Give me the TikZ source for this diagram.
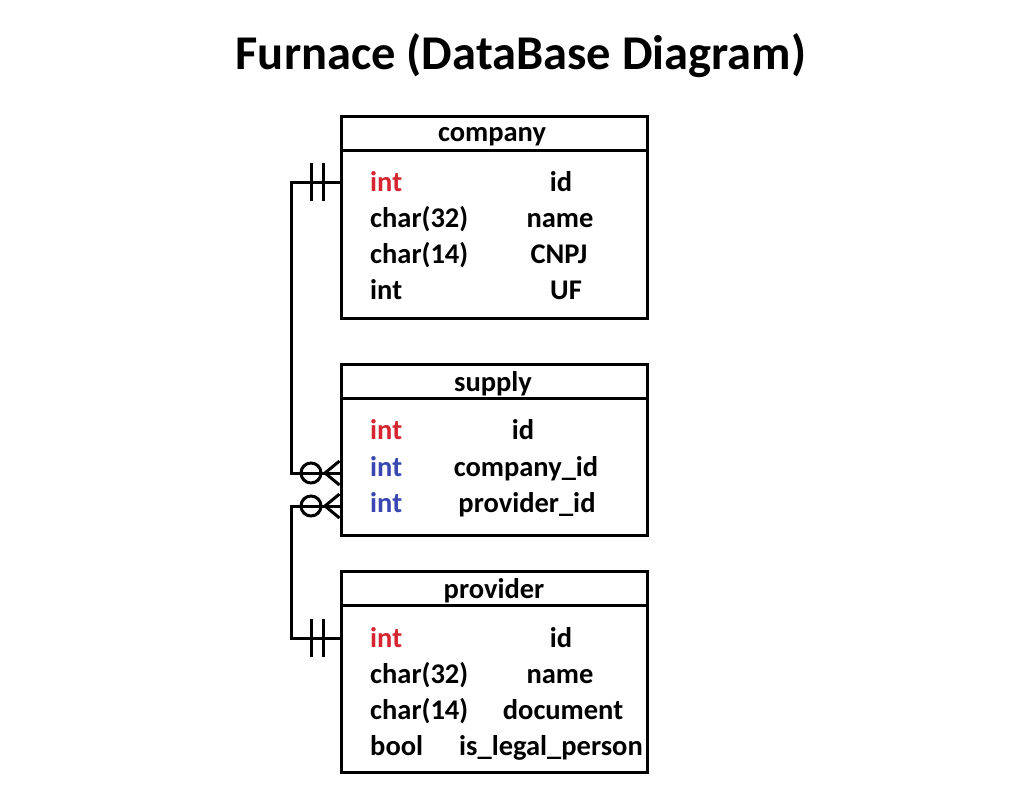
\documentclass[tikz,border=0pt]{standalone}
\usepackage{fontspec}
\setmainfont{Carlito}
\definecolor{pkred}{RGB}{214,36,48}
\definecolor{fkblue}{RGB}{58,70,178}
\begin{document}
\begin{tikzpicture}[x=1pt,y=-1pt,
  lw/.style={line width=3pt},
  tbl/.style={draw,lw,rectangle,minimum width=306pt,inner sep=0pt},
  hdr/.style={anchor=base,inner sep=0pt,font=\fontsize{28.5}{30}\selectfont\bfseries},
  typ/.style={anchor=base west,inner sep=0pt,font=\fontsize{28.5}{30}\selectfont\bfseries},
  fld/.style={anchor=base,inner sep=0pt,font=\fontsize{28.5}{30}\selectfont\bfseries},
  conn/.style={lw,line join=miter}]
\useasboundingbox[fill=white] (0,0) rectangle (1014,800);
\node[anchor=base,inner sep=0pt,font=\fontsize{48.5}{50}\selectfont\bfseries] (title) at (521,70) {Furnace (DataBase Diagram)};

% company
\node[tbl,minimum height=202pt] (company) at (494,217) {};
\draw[lw] ([yshift=-36pt]company.north west) -- ([yshift=-36pt]company.north east);
\node[hdr] (companyh) at (492,141) {company};
\node[typ,text=pkred] (ct1) at (370,191) {int};
\node[typ] (ct2) at (370,227) {char(32)};
\node[typ] (ct3) at (370,263) {char(14)};
\node[typ] (ct4) at (370,299) {int};
\node[fld] (cf1) at (561,191) {id};
\node[fld] (cf2) at (560,227) {name};
\node[fld] (cf3) at (559,263) {CNPJ};
\node[fld] (cf4) at (566,299) {UF};

% supply
\node[tbl,minimum height=171pt] (supply) at (494,449.5) {};
\draw[lw] ([yshift=-36pt]supply.north west) -- ([yshift=-36pt]supply.north east);
\node[hdr] (supplyh) at (493,391) {supply};
\node[typ,text=pkred] (st1) at (370,439) {int};
\node[typ,text=fkblue] (st2) at (370,476) {int};
\node[typ,text=fkblue] (st3) at (370,512) {int};
\node[fld] (sf1) at (523,439) {id};
\node[fld] (sf2) at (526,476) {company\_id};
\node[fld] (sf3) at (527,512) {provider\_id};

% provider
\node[tbl,minimum height=201pt] (provider) at (494,671.5) {};
\draw[lw] ([yshift=-36pt]provider.north west) -- ([yshift=-36pt]provider.north east);
\node[hdr] (providerh) at (494,598) {provider};
\node[typ,text=pkred] (pt1) at (370,647) {int};
\node[typ] (pt2) at (370,683) {char(32)};
\node[typ] (pt3) at (370,719) {char(14)};
\node[typ] (pt4) at (370,755) {bool};
\node[fld] (pf1) at (561,647) {id};
\node[fld] (pf2) at (560,683) {name};
\node[fld] (pf3) at (563,719) {document};
\node[fld] (pf4) at (551,755) {is\_legal\_person};

% connector company -- supply
\coordinate (cA) at (company.west |- 0,182);
\coordinate (sA) at (supply.west |- 0,473);
\draw[conn] (cA) -- ++(-48,0) |- (sA);
\draw[lw] (311,163) -- (311,201);
\draw[lw] (323,163) -- (323,201);
\draw[lw] (311,473) circle (10);
\draw[lw] ([yshift=12pt]sA) -- (325,473) -- ([yshift=-12pt]sA);

% connector supply -- provider
\coordinate (sB) at (supply.west |- 0,506);
\coordinate (pB) at (provider.west |- 0,638);
\draw[conn] (sB) -- ++(-48,0) |- (pB);
\draw[lw] (311,506) circle (10);
\draw[lw] ([yshift=12pt]sB) -- (325,506) -- ([yshift=-12pt]sB);
\draw[lw] (311,619) -- (311,657);
\draw[lw] (323,619) -- (323,657);
\end{tikzpicture}
\end{document}
